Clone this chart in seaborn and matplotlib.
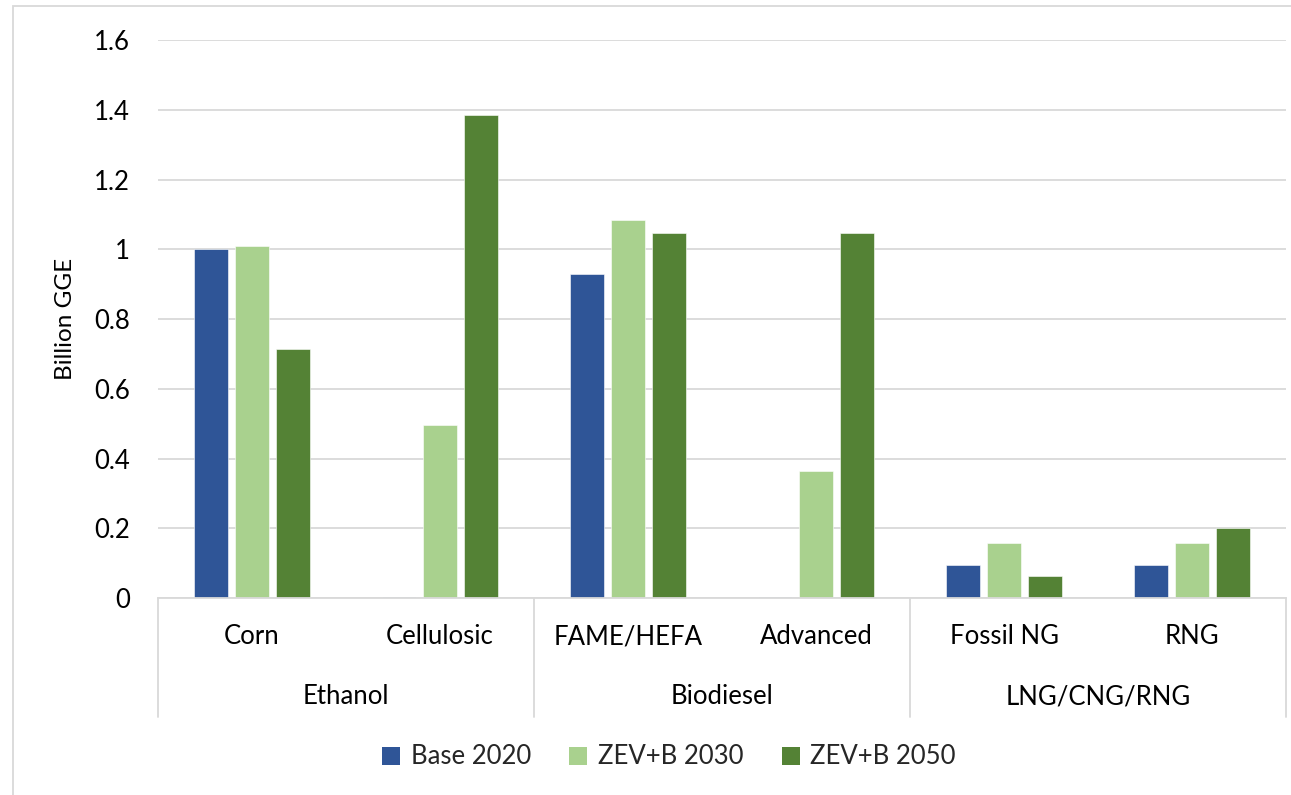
import matplotlib
matplotlib.use("Agg")
import matplotlib.pyplot as plt
import matplotlib.transforms as mtransforms
from matplotlib.patches import Rectangle, Patch
import pandas as pd
import seaborn as sns

# ---- data ----
categories = ["Corn", "Cellulosic", "FAME/HEFA", "Advanced", "Fossil NG", "RNG"]
groups = ["Ethanol", "Biodiesel", "LNG/CNG/RNG"]
group_members = [["Corn", "Cellulosic"], ["FAME/HEFA", "Advanced"], ["Fossil NG", "RNG"]]
series_names = ["Base 2020", "ZEV+B 2030", "ZEV+B 2050"]
base_2020 = [1.0, 0.003, 0.93, 0.003, 0.096, 0.096]
zev_b_2030 = [1.008, 0.497, 1.085, 0.363, 0.158, 0.158]
zev_b_2050 = [0.713, 1.385, 1.047, 1.047, 0.062, 0.202]
y_ticks = [0, 0.2, 0.4, 0.6, 0.8, 1.0, 1.2, 1.4, 1.6]
y_tick_labels = ["0", "0.2", "0.4", "0.6", "0.8", "1", "1.2", "1.4", "1.6"]
colors = ["#2F5597", "#A9D18E", "#548235"]

rows = []
for name, vals in zip(series_names, [base_2020, zev_b_2030, zev_b_2050]):
    for c, v in zip(categories, vals):
        rows.append({"category": c, "series": name, "value": v})
df = pd.DataFrame(rows)

sns.set_theme(style="white")
plt.rcParams["font.family"] = ["Lato", "DejaVu Sans"]
FS = 18.5

W, H = 1291, 795
fig = plt.figure(figsize=(W / 100, H / 100), dpi=100)
ax_left, ax_right, ax_top, ax_bot = 158, 1286, 40, 598
ax = fig.add_axes([ax_left / W, 1 - ax_bot / H, (ax_right - ax_left) / W, (ax_bot - ax_top) / H])

sns.barplot(data=df, x="category", y="value", hue="series", order=categories,
            hue_order=series_names, palette=colors, width=0.655, gap=0.19,
            edgecolor="white", linewidth=0.4, ax=ax, legend=False, saturation=1)

ax.set_ylim(0, 1.6)
ax.set_xlim(-0.5, len(categories) - 0.5)
ax.set_yticks(y_ticks)
ax.set_yticklabels(y_tick_labels, fontsize=FS, color="#000000")
ax.tick_params(axis="y", length=0, pad=20)
ax.set_xticks([])
ax.set_xlabel("")
ax.set_ylabel("")
ax.yaxis.grid(True, color="#D9D9D9", linewidth=1.3)
ax.set_axisbelow(True)
for s in ["top", "right", "left"]:
    ax.spines[s].set_visible(False)
ax.spines["bottom"].set_color("#D9D9D9")
ax.spines["bottom"].set_linewidth(1.3)

# hierarchical category axis
trans = mtransforms.blended_transform_factory(ax.transData, ax.transAxes)
axis_h = ax_bot - ax_top
sub_y = -(637 - ax_bot) / axis_h
grp_y = -(697 - ax_bot) / axis_h
sep_y = -(717 - ax_bot) / axis_h
for i, c in enumerate(categories):
    ax.text(i, sub_y, c, transform=trans, ha="center", va="center", fontsize=FS, color="#000000")
start = 0
bounds = [-0.5]
for g, members in zip(groups, group_members):
    n = len(members)
    ax.text(start + (n - 1) / 2, grp_y, g, transform=trans, ha="center", va="center",
            fontsize=FS, color="#000000")
    start += n
    bounds.append(start - 0.5)
for b in bounds:
    ax.plot([b, b], [0, sep_y], transform=trans, color="#D9D9D9", lw=1.3, clip_on=False)

fig.text(66 / W, 1 - 319 / H, "Billion GGE", rotation=90, ha="center", va="center",
         fontsize=FS - 1, color="#000000")

handles = [Patch(facecolor=col, edgecolor="none", label=n) for col, n in zip(colors, series_names)]
fig.legend(handles=handles, loc="center", bbox_to_anchor=(669 / W, 1 - 757 / H),
           ncol=3, frameon=False, fontsize=FS, handlelength=0.7, handleheight=0.7,
           handletextpad=0.4, columnspacing=1.5)

fig.patches.append(Rectangle((13 / W, -0.01), 1.02, 1 - 6 / H + 0.01, transform=fig.transFigure,
                             fill=False, edgecolor="#D9D9D9", linewidth=1.3))

fig.savefig("out.png", dpi=100, facecolor="white")
